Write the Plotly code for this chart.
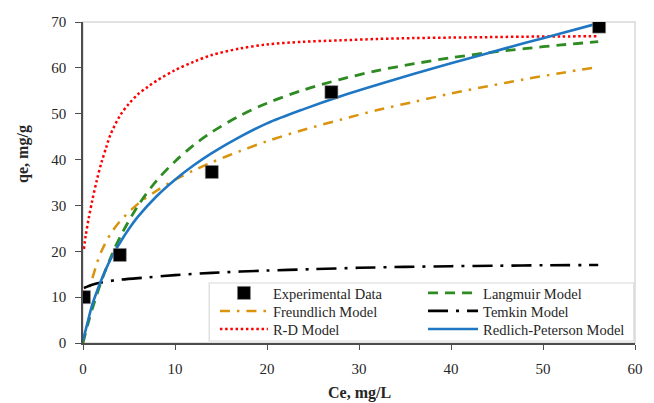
import plotly.graph_objects as go

# Experimental data
exp_ce = [0.1, 4.0, 14.0, 27.0, 56.1]
exp_qe = [10.0, 19.2, 37.3, 54.7, 69.0]

# Langmuir model
lang_ce = [0, 0.5, 1, 2, 3, 4, 6, 8, 10, 12, 14, 17, 20, 24, 28, 32, 36, 40, 44, 48, 52, 56]
lang_qe = [0, 3.9, 7.4, 13.5, 18.6, 23.0, 30.0, 35.4, 39.6, 43.1, 46.0, 49.5, 52.3, 55.2, 57.5,
           59.4, 60.9, 62.2, 63.3, 64.2, 65.0, 65.7]

# Freundlich model
freu_ce = [0.1, 0.5, 1, 1.5, 2, 3, 4, 6, 8, 10, 12, 14, 17, 20, 24, 28, 32, 36, 40, 44, 48, 52, 56]
freu_qe = [8.7, 10.8, 14.0, 17.3, 20.0, 23.8, 26.5, 30.4, 33.2, 35.6, 37.6, 39.4, 41.8, 44.0, 46.5,
           48.7, 50.8, 52.6, 54.4, 56.0, 57.5, 58.9, 60.2]

# Temkin model
temk_ce = [0.1, 1, 2, 4, 7, 10, 14, 20, 25, 30, 35, 40, 45, 50, 56]
temk_qe = [12.0, 12.7, 13.2, 13.8, 14.3, 14.8, 15.3, 15.8, 16.1, 16.4, 16.6, 16.75, 16.85, 16.95, 17.0]

# R-D model
rd_ce = [0.1, 0.3, 0.6, 1, 1.5, 2, 2.5, 3, 4, 5, 6, 7, 8, 10, 12, 14, 17, 20, 24, 28, 32, 36, 40,
         44, 48, 52, 56]
rd_qe = [20.5, 23.5, 27.0, 31.0, 35.5, 39.3, 42.5, 45.5, 49.5, 52.2, 54.3, 55.8, 57.2, 59.5, 61.3,
         62.8, 64.2, 65.1, 65.7, 66.0, 66.3, 66.5, 66.6, 66.7, 66.8, 66.85, 66.9]

# Redlich-Peterson model
rp_ce = [0, 0.5, 1, 1.5, 2, 3, 4, 5, 6, 8, 10, 12, 14, 17, 20, 24, 28, 32, 36, 40, 44, 48, 52, 56]
rp_qe = [0.5, 4.5, 8.3, 11.2, 13.8, 18.3, 21.8, 24.9, 27.6, 32.0, 35.6, 38.7, 41.4, 44.9, 47.9,
         51.0, 53.8, 56.3, 58.7, 61.0, 63.2, 65.4, 67.55, 69.7]

x_ticks = [0, 10, 20, 30, 40, 50, 60]
y_ticks = [0, 10, 20, 30, 40, 50, 60, 70]

FONT = "Liberation Serif"
AXIS_COL = "#4d4d4d"
TXT_COL = "#262626"

fig = go.Figure()

def curve(x, y, name, color, dash, width, legend):
    fig.add_trace(go.Scatter(
        x=x, y=y, name=name, mode="lines",
        line=dict(color=color, dash=dash, width=width, shape="spline", smoothing=0.9),
        legend=legend,
    ))

curve(rd_ce, rd_qe, "R-D Model", "#ff0000", "2.5px,2.7px", 2.5, "legend5")
curve(freu_ce, freu_qe, "Freundlich Model", "#d9930d", "10px,7px,2.5px,7px", 2.5, "legend3")
curve(temk_ce, temk_qe, "Temkin Model", "#000000", "20px,8px,3px,8px", 2.6, "legend4")
curve(lang_ce, lang_qe, "Langmuir Model", "#2e8b22", "10px,7px", 2.8, "legend2")
curve(rp_ce, rp_qe, "Redlich-Peterson Model", "#1f77c4", "solid", 2.6, "legend6")

fig.add_trace(go.Scatter(
    x=exp_ce, y=exp_qe, name="Experimental Data", mode="markers",
    marker=dict(symbol="square", size=13, color="#000000", line=dict(color="#8c8c8c", width=0.6)),
    legend="legend",
))

# legend cell positions (paper coords): two columns, three rows
def leg(x, y, iw):
    return dict(x=x, y=y, xanchor="left", yanchor="middle", orientation="v",
                bgcolor="rgba(0,0,0,0)", borderwidth=0, itemwidth=iw,
                font=dict(family=FONT, size=14.5, color=TXT_COL))

c1, c2 = 0.2390, 0.6160
r1, r2, r3 = 0.1558, 0.0997, 0.0436

fig.update_layout(
    width=654, height=403,
    margin=dict(l=83, r=11, t=22, b=60),
    paper_bgcolor="white", plot_bgcolor="white",
    font=dict(family=FONT, color=TXT_COL, size=15),
    showlegend=True,
    legend=leg(c1, r1, 48),
    legend2=leg(c2, r1, 50),
    legend3=leg(c1, r2, 48),
    legend4=leg(c2, r2, 50),
    legend5=leg(c1, r3, 48),
    legend6=leg(c2, r3, 50),
    xaxis=dict(
        range=[0, 60], tickvals=x_ticks, ticktext=[str(v) for v in x_ticks],
        showgrid=False, zeroline=False, showline=True, linecolor=AXIS_COL, linewidth=1.5,
        ticks="outside", ticklen=5, tickwidth=1.2, tickcolor=AXIS_COL,
        tickfont=dict(family=FONT, size=15, color=TXT_COL), ticklabelstandoff=6,
    ),
    yaxis=dict(
        range=[0, 70], tickvals=y_ticks, ticktext=[str(v) for v in y_ticks],
        showgrid=False, zeroline=False, showline=True, linecolor=AXIS_COL, linewidth=1.5,
        ticks="outside", ticklen=6, tickwidth=1.2, tickcolor=AXIS_COL,
        tickfont=dict(family=FONT, size=15, color=TXT_COL), ticklabelstandoff=6,
    ),
    shapes=[
        dict(type="rect", xref="paper", yref="paper", x0=0, x1=1, y0=0, y1=1,
             line=dict(color="#d9d9d9", width=1.5), layer="below"),
        dict(type="rect", xref="paper", yref="paper", x0=0.2286, x1=0.998, y0=0.0062, y1=0.1869,
             line=dict(color="#d9d9d9", width=1.2), fillcolor="white", layer="above"),
    ],
    annotations=[
        dict(text="<b>Ce, mg/L</b>", xref="paper", yref="paper", x=0.5, y=-0.155,
             xanchor="center", yanchor="middle", showarrow=False,
             font=dict(family=FONT, size=16, color=TXT_COL)),
        dict(text="<b>qe, mg/g</b>", xref="paper", yref="paper", x=-0.11, y=0.59,
             xanchor="center", yanchor="middle", showarrow=False, textangle=-90,
             font=dict(family=FONT, size=16, color=TXT_COL)),
    ],
)

fig.write_html("out.html")
